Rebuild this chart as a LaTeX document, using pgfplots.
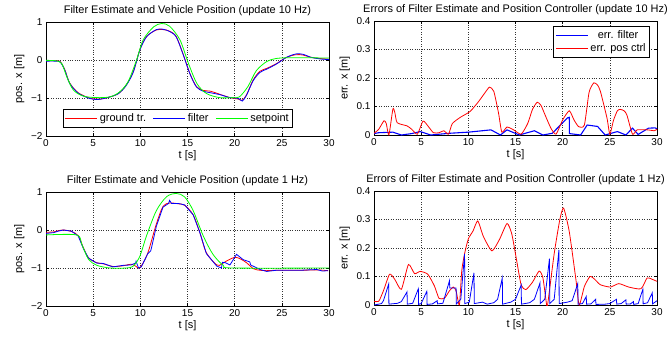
\documentclass[border=0pt]{standalone}
\usepackage{fontspec}
\setmainfont{Liberation Sans}
\usepackage{pgfplots}
\pgfplotsset{compat=1.18}
\definecolor{mred}{rgb}{1,0,0}
\definecolor{mblue}{rgb}{0,0,1}
\definecolor{mgreen}{rgb}{0,1,0}
\pgfplotsset{
  mlab/.style={
    scale only axis, width=283bp, height=114bp,
    xmin=0, xmax=30, xtick={0,5,...,30},
    grid=major, major grid style={black!80, dotted, line width=0.5pt},
    tick align=inside, major tick length=3bp,
    axis line style={line width=0.5pt},
    tick style={black, line width=0.5pt},
    tick label style={font=\fontsize{10}{12}\selectfont},
    label style={font=\fontsize{11}{13}\selectfont},
    title style={font=\fontsize{11}{13}\selectfont, yshift=-3bp},
    xlabel={t [s]},
    xlabel style={yshift=3bp},
    /pgf/number format/assume math mode=true,
    every axis plot/.append style={line width=0.8pt},
    legend style={font=\fontsize{11}{13}\selectfont, draw=black, line width=0.6pt, inner sep=2pt},
    legend image code/.code={\draw[#1] (0bp,0bp) -- (32bp,0bp);},
  },
  posax/.style={mlab, ymin=-2, ymax=1, ytick={-2,-1,0,1}, yticklabels={−2,−1,0,1}, ylabel={pos. x [m]}},
  errax/.style={mlab, ymin=0, ymax=0.4, ytick={0,0.1,0.2,0.3,0.4}, yticklabels={0,0.1,0.2,0.3,0.4}, ylabel={err. x [m]}},
}
\begin{document}
\begin{tikzpicture}[x=1bp,y=1bp]
\useasboundingbox (0,0) rectangle (671,337);
% ---------------- top left
\begin{axis}[posax, at={(46bp,201bp)}, anchor=south west,
  title={Filter Estimate and Vehicle Position (update 10 Hz)},
  legend columns=3,
  legend style={at={(0.466,0.154)}, anchor=center, /tikz/every even column/.append style={column sep=5bp}}]
\addplot[mred, smooth, tension=0.5] table {
0 -0.02
1 -0.02
1.5 -0.04
2.0 -0.26
2.5 -0.6
3.4 -0.86
4.6 -1.0
5.4 -1.03
6.0 -1.02
6.8 -0.97
7.7 -0.88
8.5 -0.66
9.25 -0.31
9.95 0.27
10.66 0.62
11.7 0.79
12.4 0.80
13.1 0.76
13.8 0.62
14.5 0.18
15.25 -0.35
15.95 -0.70
16.66 -0.80
17.4 -0.82
18.4 -0.90
19.5 -0.99
20.4 -1.03
20.8 -1.06
21.25 -0.92
21.95 -0.53
22.66 -0.30
23.4 -0.22
24.4 -0.10
25.5 0.07
26.5 0.14
27.25 0.13
28.1 0.07
29.0 0.04
30 0.02
};
\addlegendentry{ground tr.}
\addplot[mblue, smooth, tension=0.5] table {
0 -0.03
1 -0.03
1.5 -0.05
2.0 -0.27
2.5 -0.61
3.4 -0.87
4.6 -1.01
5.4 -1.04
6.0 -1.02
6.8 -0.97
7.7 -0.88
8.5 -0.67
9.25 -0.32
9.95 0.26
10.66 0.61
11.7 0.80
12.4 0.81
13.1 0.75
13.8 0.61
14.5 0.17
15.25 -0.36
15.95 -0.71
16.66 -0.82
17.4 -0.86
18.4 -0.91
19.5 -0.99
20.4 -1.01
20.8 -1.08
21.25 -0.93
21.95 -0.55
22.66 -0.33
23.4 -0.24
24.4 -0.11
25.5 0.07
26.5 0.16
27.25 0.15
28.1 0.07
29.0 0.03
30 0.01
};
\addlegendentry{filter}
\addplot[mgreen, smooth, tension=0.5] table {
0 -0.01
1 -0.02
1.66 -0.09
2.2 -0.44
2.9 -0.79
3.95 -0.95
5.4 -0.99
6.8 -0.97
7.8 -0.84
8.7 -0.57
9.6 0.0
10.3 0.53
11.4 0.87
12.25 0.96
13.1 0.89
14.2 0.53
15.1 -0.09
16.0 -0.62
17.0 -0.88
18.4 -0.99
19.8 -0.99
20.5 -0.97
21.4 -0.70
22.3 -0.28
23.4 -0.04
24.4 0.04
25.8 0.06
27.6 0.06
30 0.05
};
\addlegendentry{setpoint}
\end{axis}
% ---------------- top right
\begin{axis}[errax, at={(374bp,202bp)}, anchor=south west,
  title={Errors of Filter Estimate and Position Controller (update 10 Hz)},
  legend style={at={(0.975,0.956)}, anchor=north east}]
\addplot[mblue, line width=1.1pt, legend image code/.code={\draw[mblue, line width=0.8pt] (0bp,0bp) -- (32bp,0bp);}] table {
0 0.005
0.5 0.008
2.0 0.01
2.9 0.0
4.0 0.005
4.9 0.012
6.0 0.0
8.0 0.006
10.0 0.01
12.4 0.018
13.4 0.0
14.1 0.018
15.4 0.0
17.0 0.015
17.9 0.0
18.9 0.006
20.5 0.06
20.7 0.062
20.71 0.005
21.9 0.0
22.6 0.035
23.7 0.03
24.5 0.0
25.8 0.012
26.7 0.0
27.4 0.024
28.0 0.002
29.1 0.024
29.8 0.025
30 0.022
};
\addlegendentry{err. filter}
\addplot[mred, smooth, tension=0.35] table {
0 0.006
0.5 0.02
1.06 0.05
1.3 0.04
1.58 0.0
2.0 0.091
2.2 0.08
2.46 0.043
3.5 0.032
4.0 0.02
4.6 0.003
5.2 0.049
5.8 0.028
6.3 0.008
6.9 0.008
7.4 0.015
7.9 0.003
8.3 0.04
9.15 0.062
10.2 0.083
11.1 0.118
11.8 0.15
12.25 0.168
12.7 0.153
13.2 0.077
13.55 0.01
14.1 0.028
14.8 0.018
15.6 0.003
16.3 0.041
16.8 0.09
17.3 0.115
17.7 0.104
18.05 0.077
18.75 0.024
19.3 0.003
20.0 0.053
20.7 0.085
21.2 0.053
21.7 0.029
22.3 0.035
22.8 0.15
23.3 0.183
23.7 0.175
24.0 0.153
24.7 0.059
25.0 0.003
25.4 0.053
25.8 0.085
26.1 0.09
26.5 0.085
26.8 0.071
27.4 0.003
27.9 0.018
29.0 0.018
29.7 0.015
30 0.02
};
\addlegendentry{err. pos ctrl}
\end{axis}
% ---------------- bottom left
\begin{axis}[posax, at={(46bp,31bp)}, anchor=south west,
  title={Filter Estimate and Vehicle Position (update 1 Hz)}]
\addplot[mred, smooth, tension=0.5] table {
0 -0.06
0.8 -0.05
1.3 -0.02
1.84 0.0
2.7 -0.04
3.42 -0.15
3.95 -0.46
4.5 -0.73
5.37 -0.86
6.07 -0.89
7.1 -0.96
8.2 -0.94
9.0 -0.90
9.5 -0.95
9.8 -1.0
10.1 -0.95
10.8 -0.6
11.7 0.16
12.4 0.62
13.1 0.71
14.0 0.69
14.7 0.65
15.6 0.40
16.3 -0.06
17.0 -0.6
18.1 -0.92
18.6 -0.90
19.1 -0.82
20.0 -0.72
20.6 -0.76
21.25 -0.86
22.0 -1.02
22.7 -1.06
23.4 -1.07
24.4 -1.06
26.9 -1.06
28.7 -1.05
29.9 -1.07
};
\addplot[mblue] table {
0 -0.09
0.8 -0.07
1.3 -0.03
1.84 0.0
2.7 -0.03
3.42 -0.16
3.95 -0.48
4.5 -0.74
5.37 -0.87
6.07 -0.88
7.1 -0.97
8.2 -0.93
9.0 -0.92
9.5 -0.87
9.55 -0.82
9.8 -1.0
10.1 -0.97
10.8 -0.62
11.1 -0.55
11.2 -0.45
11.7 0.10
12.4 0.60
13.0 0.70
13.1 0.78
13.3 0.70
14.0 0.70
14.7 0.66
15.6 0.40
16.3 -0.06
17.0 -0.62
18.1 -0.95
18.6 -1.0
18.7 -0.85
19.0 -0.86
19.5 -0.92
20.2 -0.64
20.9 -0.78
21.6 -0.84
21.7 -0.92
22.7 -1.04
23.4 -1.09
24.4 -1.06
26.9 -1.06
28.7 -1.04
29.3 -1.08
29.9 -1.07
};
\addplot[mgreen, smooth, tension=0.5] table {
0 -0.13
3.25 -0.13
3.8 -0.38
4.5 -0.77
5.4 -0.93
6.8 -1.0
8.5 -1.0
9.25 -0.95
9.95 -0.69
10.66 -0.15
11.7 0.51
12.8 0.88
13.84 0.96
14.7 0.87
15.6 0.51
16.66 -0.15
17.7 -0.64
18.8 -0.93
19.8 -1.0
30 -1.0
};
\end{axis}
% ---------------- bottom right
\begin{axis}[errax, at={(374bp,32bp)}, anchor=south west,
  title={Errors of Filter Estimate and Position Controller (update 1 Hz)}]
\addplot[mred, smooth, tension=0.35] table {
0 0.013
0.5 0.013
1.0 0.05
1.65 0.108
2.2 0.09
2.9 0.055
3.65 0.142
4.3 0.11
4.9 0.118
5.7 0.108
6.4 0.067
6.9 0.023
7.5 0.025
8.0 0.05
8.4 0.063
8.7 0.05
9.05 0.0
9.3 0.12
9.6 0.18
10.0 0.232
10.5 0.26
11.0 0.295
11.6 0.24
12.5 0.19
13.3 0.23
14.1 0.286
14.6 0.25
15.1 0.16
15.6 0.07
16.1 0.054
16.8 0.08
17.5 0.119
17.9 0.096
18.3 0.0
18.4 0.0
19.1 0.18
19.7 0.3
20.1 0.34
20.7 0.257
21.4 0.09
21.75 0.0
22.3 0.065
22.9 0.1
23.4 0.09
24.0 0.071
25.05 0.063
25.95 0.075
27.0 0.063
28.3 0.057
28.95 0.095
29.5 0.09
30 0.083
};
\addplot[mblue] table {
0 0.0
0.8 0.005
1.0 0.015
1.55 0.073
1.58 0.003
2.5 0.006
2.9 0.012
3.5 0.046
3.53 0.003
4.1 0.006
4.7 0.057
4.73 0.002
5.0 0.005
5.6 0.048
5.63 0.002
6.2 0.004
6.7 0.015
6.73 0.004
7.3 0.006
8.0 0.085
8.03 0.06
8.2 0.06
8.7 0.06
8.73 0.004
9.2 0.02
9.6 0.179
9.63 0.005
10.1 0.01
10.6 0.113
10.63 0.005
11.5 0.01
12.0 0.003
12.7 0.008
13.1 0.02
13.6 0.095
13.63 0.003
14.5 0.01
15.0 0.02
15.6 0.07
15.63 0.003
16.5 0.008
17.0 0.02
17.6 0.078
17.63 0.005
18.1 0.02
18.6 0.163
18.63 0.005
19.1 0.02
19.6 0.193
19.63 0.005
20.5 0.01
21.0 0.015
21.6 0.075
21.63 0.003
22.1 0.005
22.5 0.03
22.53 0.003
23.0 0.004
23.5 0.02
23.53 0.002
24.5 0.003
25.0 0.005
25.7 0.02
25.73 0.003
26.2 0.005
26.7 0.018
26.73 0.003
27.2 0.004
27.5 0.012
27.53 0.002
28.0 0.005
28.5 0.055
28.53 0.004
29.0 0.008
29.5 0.043
29.53 0.004
30 0.015
};
\end{axis}
\end{tikzpicture}
\end{document}
